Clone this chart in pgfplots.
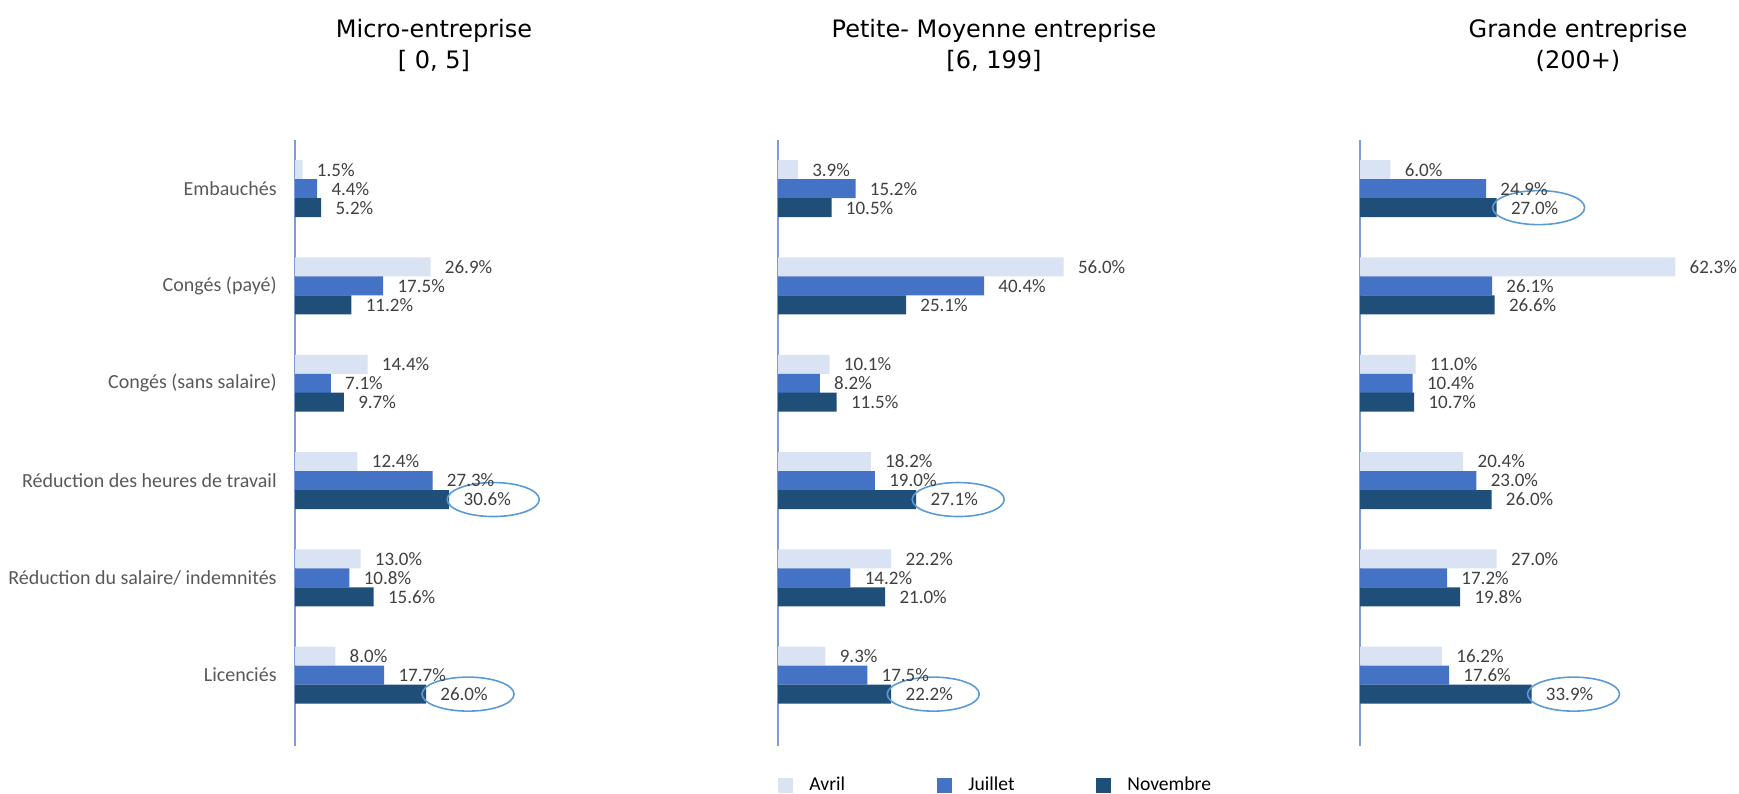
\documentclass[border=0pt]{standalone}
\usepackage{fontspec}
\setmainfont{Carlito}
\newfontfamily\titlefont{DejaVu Sans}
\usepackage{pgfplots}
\usepackage{pgfplotstable}
\pgfplotsset{compat=1.18}

\definecolor{avril}{HTML}{DAE3F3}
\definecolor{juillet}{HTML}{4472C4}
\definecolor{novembre}{HTML}{1F4E79}
\definecolor{axisblue}{HTML}{7F9CD6}
\definecolor{circblue}{HTML}{5B9BD5}
\definecolor{labgray}{HTML}{404040}
\definecolor{catgray}{HTML}{595959}

% Avril / Juillet / Novembre, rows in category order
\pgfplotstableread{
avril juillet novembre
1.5  4.4  5.2
26.9 17.5 11.2
14.4 7.1  9.7
12.4 27.3 30.6
13.0 10.8 15.6
8.0  17.7 26.0
}\micro

\pgfplotstableread{
avril juillet novembre
3.9  15.2 10.5
56.0 40.4 25.1
10.1 8.2  11.5
18.2 19.0 27.1
22.2 14.2 21.0
9.3  17.5 22.2
}\pme

\pgfplotstableread{
avril juillet novembre
6.0  24.9 27.0
62.3 26.1 26.6
11.0 10.4 10.7
20.4 23.0 26.0
27.0 17.2 19.8
16.2 17.6 33.9
}\grande

\tikzset{circ/.style={draw=circblue, line width=0.8pt}}

\pgfplotsset{
  panel/.style={
    xbar, bar width=9.5pt,
    y dir=reverse, y=48.65pt,
    xmin=0, ymin=-0.5, ymax=5.73,
    axis x line=none, axis y line*=left,
    axis line style={draw=axisblue, line width=0.8pt, -},
    ytick={0,...,5}, major tick length=0pt, yticklabels={},
    clip=false,
    point meta=x,
    nodes near coords={\pgfmathprintnumber[fixed,fixed zerofill,precision=1]{\pgfplotspointmeta}\%},
    nodes near coords align=horizontal,
    every node near coord/.append style={font=\fontsize{9.5}{11}\selectfont,
      text=labgray, inner sep=0pt, anchor=west, xshift=7pt},
    /pgf/number format/assume math mode=true,
    anchor=north west,
  },
  bA/.style={fill=avril, draw=none, bar shift=0pt},
  bJ/.style={fill=juillet, draw=none, bar shift=0pt},
  bN/.style={fill=novembre, draw=none, bar shift=0pt},
}

\begin{document}
\begin{tikzpicture}
\useasboundingbox (0,0) rectangle (869.5pt,396.5pt);

% titles
\node[font=\titlefont\fontsize{12}{15.5}\selectfont, align=center] at (217pt,373.75pt)
  {Micro-entreprise\\{[} 0, 5{]}};
\node[font=\titlefont\fontsize{12}{15.5}\selectfont, align=center] at (497pt,373.75pt)
  {Petite- Moyenne entreprise\\{[}6, 199{]}};
\node[font=\titlefont\fontsize{12}{15.5}\selectfont, align=center] at (789pt,373.75pt)
  {Grande entreprise\\(200+)};

% Micro
\begin{axis}[panel, at={(147.5pt,326.5pt)}, x=2.52pt, xmax=40,
  yticklabels={Embauchés, Congés (payé), Congés (sans salaire), Réduction des heures de travail, Réduction du salaire/ indemnités, Licenciés},
  yticklabel style={font=\fontsize{10}{12}\selectfont, text=catgray, anchor=east, inner sep=0pt, xshift=-9pt}]
\addplot[bA] table[x=avril, y expr=\coordindex-0.195] {\micro};
\addplot[bJ] table[x=juillet, y expr=\coordindex] {\micro};
\addplot[bN] table[x=novembre, y expr=\coordindex+0.195] {\micro};
\draw[circ] (axis cs:30.6,3.195) ++(22pt,0pt) ellipse [x radius=23pt, y radius=8.5pt];
\draw[circ] (axis cs:26.0,5.195) ++(21pt,0pt) ellipse [x radius=23pt, y radius=8.5pt];
\end{axis}

% Petite-Moyenne
\begin{axis}[panel, at={(389pt,326.5pt)}, x=2.55pt, xmax=60,
  legend columns=3,
  legend image code/.code={\fill[#1] (0pt,-3.75pt) rectangle (7.5pt,3.75pt);},
  legend style={at={(0,-0.0644)}, anchor=west, draw=none, fill=none, inner sep=0pt,
    font=\fontsize{9.8}{11}\selectfont,
    nodes={inner sep=0pt},
    /tikz/every odd column/.append style={column sep=8pt}},
  legend cell align=left]
\addplot[bA] table[x=avril, y expr=\coordindex-0.195] {\pme};
\addplot[bJ] table[x=juillet, y expr=\coordindex] {\pme};
\addplot[bN] table[x=novembre, y expr=\coordindex+0.195] {\pme};
\legend{{\makebox[64pt][l]{Avril}},{\makebox[64pt][l]{Juillet}},{Novembre}}
\draw[circ] (axis cs:27.1,3.195) ++(21pt,0pt) ellipse [x radius=23pt, y radius=8.5pt];
\draw[circ] (axis cs:22.2,5.195) ++(21pt,0pt) ellipse [x radius=23pt, y radius=8.5pt];
\end{axis}

% Grande
\begin{axis}[panel, at={(680pt,326.5pt)}, x=2.53pt, xmax=65]
\addplot[bA] table[x=avril, y expr=\coordindex-0.195] {\grande};
\addplot[bJ] table[x=juillet, y expr=\coordindex] {\grande};
\addplot[bN] table[x=novembre, y expr=\coordindex+0.195] {\grande};
\draw[circ] (axis cs:27.0,0.195) ++(21pt,0pt) ellipse [x radius=23pt, y radius=8.5pt];
\draw[circ] (axis cs:33.9,5.195) ++(21pt,0pt) ellipse [x radius=23pt, y radius=8.5pt];
\end{axis}
\end{tikzpicture}
\end{document}
